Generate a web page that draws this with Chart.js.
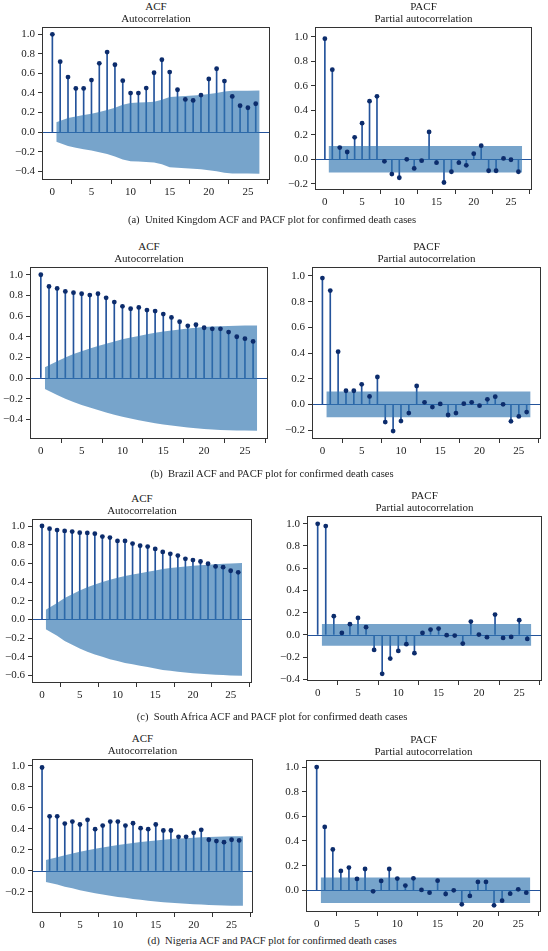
<!DOCTYPE html>
<html>
<head>
<meta charset="utf-8">
<script src="https://cdn.jsdelivr.net/npm/chart.js@4.4.0/dist/chart.umd.min.js"></script>
<style>
  body { margin: 0; width: 548px; height: 951px; position: relative; overflow: hidden; background: #fff;
         font-family: "Liberation Serif", "Times New Roman", serif; color: #222; }
  canvas { position: absolute; }
  .t { position: absolute; font-size: 11px; line-height: 12px; white-space: nowrap; transform: translate(-50%, -50%); }
  .cap { font-size: 10.6px; }
</style>
</head>
<body>
<script>
// lags shown on every panel
const lags = [0, 1, 2, 3, 4, 5, 6, 7, 8, 9, 10, 11, 12, 13, 14, 15, 16, 17, 18, 19, 20, 21, 22, 23, 24, 25, 26];
const xTicks = [0, 5, 10, 15, 20, 25];

// (a) United Kingdom
const ukAcf = [1.0, 0.72, 0.563, 0.447, 0.447, 0.532, 0.703, 0.819, 0.689, 0.526, 0.399, 0.399, 0.45, 0.607,
  0.74, 0.614, 0.433, 0.334, 0.324, 0.379, 0.543, 0.648, 0.522, 0.365, 0.27, 0.249, 0.29];
const ukAcfConf = [0.10, 0.143, 0.16, 0.175, 0.188, 0.205, 0.225, 0.25, 0.28, 0.297, 0.302, 0.305, 0.31, 0.33,
  0.36, 0.365, 0.37, 0.375, 0.38, 0.39, 0.40, 0.416, 0.423, 0.423, 0.424, 0.425];
const ukPacf = [0.985, 0.732, 0.096, 0.06, 0.18, 0.295, 0.475, 0.514, -0.016, -0.12, -0.15, 0.0, -0.074, -0.011,
  0.224, -0.027, -0.189, -0.101, -0.027, -0.049, 0.046, 0.112, -0.093, -0.093, 0.008, -0.003, -0.101];
const ukPacfConf = 0.108;

// (b) Brazil
const brAcf = [1.0, 0.887, 0.868, 0.839, 0.826, 0.816, 0.803, 0.816, 0.777, 0.735, 0.694, 0.671, 0.684, 0.658,
  0.648, 0.619, 0.587, 0.545, 0.506, 0.516, 0.487, 0.477, 0.477, 0.445, 0.40, 0.381, 0.355];
const brAcfConf = [0.105, 0.163, 0.20, 0.233, 0.26, 0.286, 0.31, 0.333, 0.355, 0.375, 0.392, 0.408, 0.424, 0.438,
  0.45, 0.46, 0.47, 0.479, 0.487, 0.493, 0.498, 0.502, 0.505, 0.507, 0.508, 0.509];
const brPacf = [0.984, 0.886, 0.41, 0.106, 0.106, 0.156, 0.062, 0.213, -0.138, -0.208, -0.13, -0.068, 0.143, 0.016,
  -0.021, 0.003, -0.083, -0.068, 0.005, 0.016, -0.01, 0.039, 0.06, 0.0, -0.132, -0.094, -0.06];
const brPacfConf = 0.10;

// (c) South Africa
const saAcf = [1.0, 0.972, 0.957, 0.947, 0.94, 0.929, 0.926, 0.918, 0.887, 0.876, 0.84, 0.84, 0.812, 0.79,
  0.78, 0.755, 0.723, 0.702, 0.684, 0.649, 0.635, 0.62, 0.596, 0.567, 0.56, 0.521, 0.504];
const saAcfConf = [0.105, 0.175, 0.23, 0.27, 0.31, 0.345, 0.375, 0.40, 0.425, 0.445, 0.465, 0.48, 0.495, 0.51,
  0.525, 0.54, 0.55, 0.56, 0.567, 0.575, 0.58, 0.586, 0.591, 0.595, 0.60, 0.603];
const saPacf = [1.0, 0.979, 0.168, 0.018, 0.096, 0.153, 0.069, -0.135, -0.35, -0.213, -0.144, -0.084, -0.165, 0.018,
  0.048, 0.057, -0.003, -0.006, -0.078, 0.12, 0.003, -0.021, 0.183, -0.027, -0.018, 0.132, -0.036];
const saPacfConf = 0.098;

// (d) Nigeria
const ngAcf = [0.984, 0.52, 0.52, 0.451, 0.47, 0.442, 0.486, 0.397, 0.432, 0.47, 0.47, 0.432, 0.454, 0.407,
  0.397, 0.442, 0.385, 0.385, 0.325, 0.325, 0.363, 0.391, 0.297, 0.284, 0.274, 0.297, 0.29];
const ngAcfConf = [0.105, 0.13, 0.15, 0.165, 0.183, 0.198, 0.212, 0.224, 0.236, 0.248, 0.256, 0.266, 0.275, 0.283,
  0.29, 0.297, 0.303, 0.308, 0.312, 0.316, 0.32, 0.324, 0.326, 0.328, 0.33, 0.331];
const ngPacf = [1.0, 0.514, 0.332, 0.157, 0.184, 0.092, 0.173, -0.008, 0.076, 0.173, 0.095, 0.038, 0.097, 0.003,
  -0.019, 0.078, -0.03, 0.0, -0.114, -0.046, 0.068, 0.068, -0.122, -0.084, -0.027, 0.008, -0.019];
const ngPacfConf = 0.103;

// y tick labels
const yTicksAcfA = [-0.4, -0.2, 0.0, 0.2, 0.4, 0.6, 0.8, 1.0];
const yTicksAcfC = [-0.6, -0.4, -0.2, 0.0, 0.2, 0.4, 0.6, 0.8, 1.0];
const yTicksAcfD = [-0.2, 0.0, 0.2, 0.4, 0.6, 0.8, 1.0];
const yTicksPacf = [-0.2, 0.0, 0.2, 0.4, 0.6, 0.8, 1.0];
const yTicksPacfC = [-0.4, -0.2, 0.0, 0.2, 0.4, 0.6, 0.8, 1.0];
const yTicksPacfD = [0.0, 0.2, 0.4, 0.6, 0.8, 1.0];

const captions = [
  ['(a)\u2002United Kingdom ACF and PACF plot for confirmed death cases', 220],
  ['(b)\u2002Brazil ACF and PACF plot for confirmed death cases', 474],
  ['(c)\u2002South Africa ACF and PACF plot for confirmed death cases', 717],
  ['(d)\u2002Nigeria ACF and PACF plot for confirmed death cases', 941]
];

const STEM = '#24539b';
const MARK = '#0c2c6c';
const BAND = 'rgba(48,117,176,0.66)';
const FRAME = '#333';
const FONT = { family: '"Liberation Serif", "Times New Roman", serif', size: 11 };

// box = plot frame in page pixels
const panels = [
  { vals: ukAcf, conf: ukAcfConf, kind: 'acf', box: [42, 270, 27, 180], ylim: [-0.49, 1.075], yt: yTicksAcfA },
  { vals: ukPacf, conf: ukPacfConf, kind: 'pacf', box: [315, 532, 27, 190], ylim: [-0.25, 1.08], yt: yTicksPacf },
  { vals: brAcf, conf: brAcfConf, kind: 'acf', box: [30, 268, 267, 439], ylim: [-0.59, 1.075], yt: yTicksAcfA },
  { vals: brPacf, conf: brPacfConf, kind: 'pacf', box: [312, 541, 267, 439], ylim: [-0.27, 1.07], yt: yTicksPacf },
  { vals: saAcf, conf: saAcfConf, kind: 'acf', box: [32, 252, 519, 683], ylim: [-0.68, 1.075], yt: yTicksAcfC },
  { vals: saPacf, conf: saPacfConf, kind: 'pacf', box: [307, 542, 516, 681], ylim: [-0.415, 1.07], yt: yTicksPacfC },
  { vals: ngAcf, conf: ngAcfConf, kind: 'acf', box: [32, 253, 759, 913], ylim: [-0.40, 1.065], yt: yTicksAcfD },
  { vals: ngPacf, conf: ngPacfConf, kind: 'pacf', box: [306, 541, 760, 912], ylim: [-0.176, 1.057], yt: yTicksPacfD }
];

function addText(txt, x, y, cls) {
  const d = document.createElement('div');
  d.className = 't ' + (cls || '');
  d.textContent = txt;
  d.style.left = x + 'px';
  d.style.top = y + 'px';
  document.body.appendChild(d);
}

const fmt = v => (v < -1e-9 ? '\u2212' : '') + Math.abs(v).toFixed(1);

const framePlugin = {
  id: 'frame',
  beforeDatasetsDraw(chart) {
    const { ctx, chartArea: a, scales: { y } } = chart;
    const y0 = Math.round(y.getPixelForValue(0)) + 0.5;
    ctx.save();
    ctx.strokeStyle = STEM;
    ctx.lineWidth = 1;
    ctx.beginPath();
    ctx.moveTo(a.left, y0);
    ctx.lineTo(a.right, y0);
    ctx.stroke();
    ctx.restore();
  },
  afterDatasetsDraw(chart) {
    const { ctx, chartArea: a } = chart;
    ctx.save();
    ctx.strokeStyle = FRAME;
    ctx.lineWidth = 1;
    ctx.strokeRect(Math.round(a.left) + 0.5, Math.round(a.top) + 0.5,
      Math.round(a.right - a.left) - 1, Math.round(a.bottom - a.top) - 1);
    ctx.restore();
  }
};

function makePanel(p) {
  const [L, R, T, B] = p.box;
  const padL = 34, padR = 6, padT = 12, padB = 22;
  const w = R - L + padL + padR, h = B - T + padT + padB;
  const c = document.createElement('canvas');
  c.width = w; c.height = h;
  c.style.width = w + 'px'; c.style.height = h + 'px';
  c.style.left = (L - padL) + 'px';
  c.style.top = (T - padT) + 'px';
  document.body.appendChild(c);

  const stems = p.vals.map((v, i) => ({ x: lags[i], y: v }));
  const bandLags = lags.slice(1);
  const conf = Array.isArray(p.conf) ? p.conf : bandLags.map(() => p.conf);
  // statsmodels widens the band by half a lag at both ends
  const bandX = bandLags.map((l, i) => i === 0 ? l - 0.5 : i === bandLags.length - 1 ? l + 0.5 : l);
  const upper = bandX.map((x, i) => ({ x, y: conf[i] }));
  const lower = bandX.map((x, i) => ({ x, y: -conf[i] }));

  new Chart(c, {
    type: 'line',
    data: {
      datasets: [
        { type: 'bar', data: stems, backgroundColor: STEM, barThickness: 1, grouped: false, order: 3 },
        { data: upper, fill: '+1', backgroundColor: BAND, borderColor: 'transparent', borderWidth: 0, pointRadius: 0, order: 2 },
        { data: lower, fill: false, borderColor: 'transparent', borderWidth: 0, pointRadius: 0, order: 2 },
        { data: stems, showLine: false, pointRadius: 2.4, pointBackgroundColor: MARK, pointBorderWidth: 0, order: 1 }
      ]
    },
    options: {
      responsive: false,
      animation: false,
      events: [],
      layout: { padding: { left: 0, right: padR, top: padT, bottom: 0 } },
      plugins: { legend: { display: false }, tooltip: { enabled: false } },
      scales: {
        x: {
          type: 'linear', min: -1.325, max: 27.825, offset: false,
          afterBuildTicks: s => { s.ticks = xTicks.map(v => ({ value: v })); },
          afterFit: s => { s.height = padB; },
          grid: { drawOnChartArea: false, tickLength: 4, color: FRAME },
          border: { display: false },
          ticks: { font: FONT, color: '#222', padding: 2, maxRotation: 0, autoSkip: false }
        },
        y: {
          type: 'linear', min: p.ylim[0], max: p.ylim[1],
          afterBuildTicks: s => { s.ticks = p.yt.map(v => ({ value: v })); },
          afterFit: s => { s.width = padL; },
          grid: { drawOnChartArea: false, tickLength: 4, color: FRAME },
          border: { display: false },
          ticks: { font: FONT, color: '#222', padding: 3, autoSkip: false, callback: v => fmt(v) }
        }
      }
    },
    plugins: [framePlugin]
  });

  const cx = (L + R) / 2;
  addText(p.kind === 'acf' ? 'ACF' : 'PACF', cx, T - 21);
  addText(p.kind === 'acf' ? 'Autocorrelation' : 'Partial autocorrelation', cx, T - 9.5);
}

panels.forEach(makePanel);
captions.forEach(([txt, y]) => addText(txt, 272, y, 'cap'));
</script>
</body>
</html>
